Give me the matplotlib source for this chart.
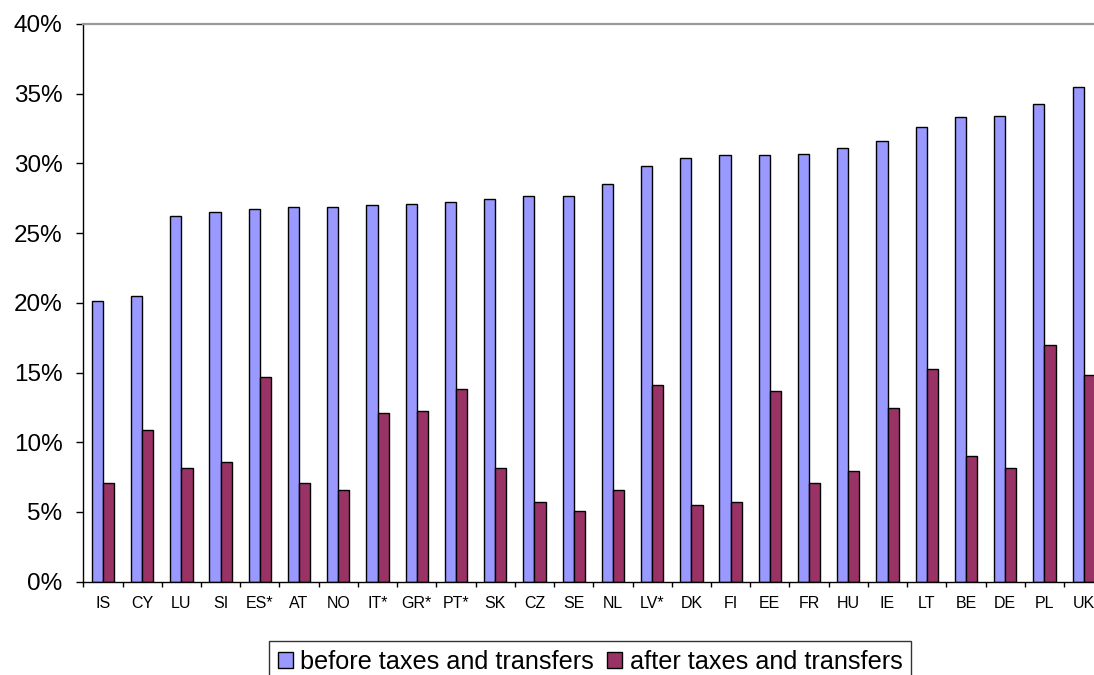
import numpy as np
import matplotlib
matplotlib.use("Agg")
import matplotlib.pyplot as plt
from matplotlib.patches import Patch
from matplotlib.ticker import FuncFormatter, MultipleLocator

plt.rcParams['font.family'] = ['Liberation Sans', 'DejaVu Sans']

countries = ["IS", "CY", "LU", "SI", "ES*", "AT", "NO", "IT*", "GR*", "PT*",
             "SK", "CZ", "SE", "NL", "LV*", "DK", "FI", "EE", "FR", "HU",
             "IE", "LT", "BE", "DE", "PL", "UK"]
before = [20.1, 20.5, 26.2, 26.5, 26.7, 26.9, 26.9, 27.0, 27.1, 27.2,
          27.45, 27.65, 27.65, 28.5, 29.8, 30.4, 30.6, 30.6, 30.7, 31.1,
          31.6, 32.6, 33.3, 33.4, 34.25, 35.5]
after = [7.1, 10.9, 8.15, 8.6, 14.65, 7.1, 6.6, 12.1, 12.25, 13.8,
         8.15, 5.75, 5.1, 6.6, 14.1, 5.5, 5.75, 13.7, 7.1, 7.95,
         12.45, 15.25, 9.0, 8.15, 16.95, 14.85]
series_names = ["before taxes and transfers", "after taxes and transfers"]
colors = ["#9999FF", "#993366"]

W, H = 1094, 675
fig = plt.figure(figsize=(W / 100, H / 100), dpi=100)
left, right, bottom, top = 83.3, 1103.3, 581.7, 24.0
ax = fig.add_axes([left / W, (H - bottom) / H, (right - left) / W, (bottom - top) / H])

x = np.arange(len(countries)) + 0.5
bw = 0.285
ax.bar(x - bw / 2, np.array(before) / 100, width=bw, color=colors[0],
       edgecolor="black", linewidth=1.0)
ax.bar(x + bw / 2, np.array(after) / 100, width=bw, color=colors[1],
       edgecolor="black", linewidth=1.0)

ax.set_xlim(0, len(countries))
ax.set_ylim(0, 0.40)

# category boundaries carry the tick marks, labels sit at the centres
ax.set_xticks(np.arange(len(countries) + 1))
ax.set_xticklabels([])
ax.set_xticks(x, minor=True)
ax.set_xticklabels(countries, minor=True, fontsize=11.5)
ax.tick_params(axis="x", which="major", direction="out", length=3.6, width=1)
ax.tick_params(axis="x", which="minor", length=0, pad=10.5)

ax.yaxis.set_major_locator(MultipleLocator(0.05))
ax.yaxis.set_major_formatter(FuncFormatter(lambda v, p: f"{v * 100:.0f}%"))
ax.tick_params(axis="y", direction="out", length=5, width=1, labelsize=17.5, pad=10)

for s in ("left", "bottom"):
    ax.spines[s].set_color("black")
    ax.spines[s].set_linewidth(1.0)
ax.spines["top"].set_color("#999999")
ax.spines["top"].set_linewidth(1.6)
ax.spines["right"].set_visible(False)

handles = [Patch(facecolor=c, edgecolor="black", linewidth=1.0) for c in colors]
leg = fig.legend(handles, series_names, ncol=2, loc="upper center",
                 bbox_to_anchor=(590 / W, (H - 641) / H), fontsize=18.2,
                 frameon=True, fancybox=False, edgecolor="black",
                 handlelength=0.6, handleheight=0.6, handletextpad=0.3,
                 columnspacing=0.5, borderpad=0.35, borderaxespad=0)
leg.get_frame().set_linewidth(1.0)

fig.savefig("out.png", dpi=100)
